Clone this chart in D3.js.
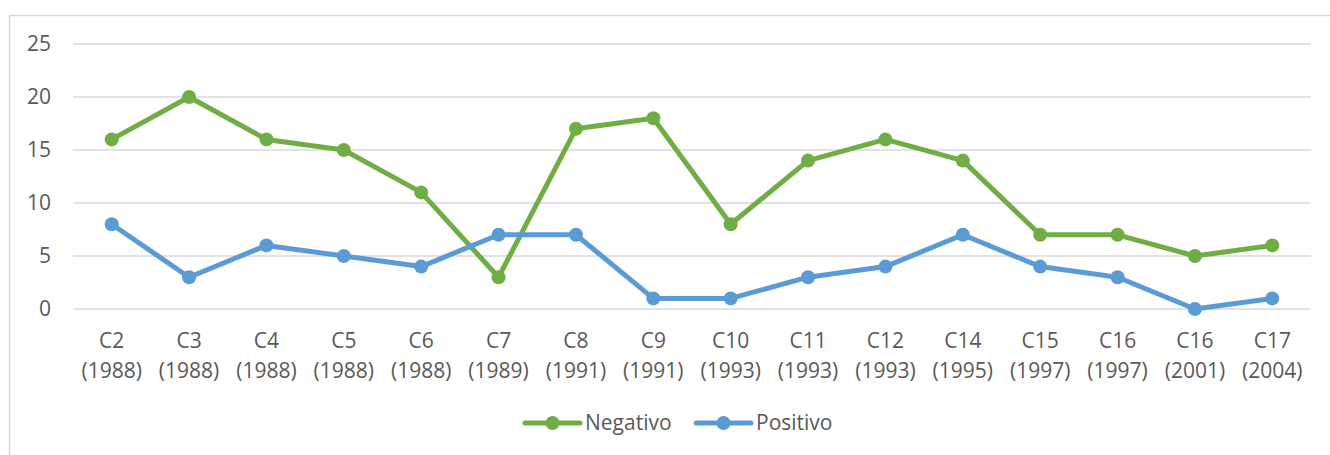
<!DOCTYPE html>
<html>
<head>
<meta charset="utf-8">
<script src="https://cdn.jsdelivr.net/npm/d3@7"></script>
<style>
  body { margin: 0; background: #fff; }
  #chart text { font-family: "Open Sans", sans-serif; fill: #595959; }
</style>
</head>
<body>
<div id="chart"></div>
<script>
// categories (two-line labels)
const categories = ["C2", "C3", "C4", "C5", "C6", "C7", "C8", "C9", "C10", "C11", "C12", "C14", "C15", "C16", "C16", "C17"];
const years = ["1988", "1988", "1988", "1988", "1988", "1989", "1991", "1991", "1993", "1993", "1993", "1995", "1997", "1997", "2001", "2004"];
const negativo = [16, 20, 16, 15, 11, 3, 17, 18, 8, 14, 16, 14, 7, 7, 5, 6];
const positivo = [8, 3, 6, 5, 4, 7, 7, 1, 1, 3, 4, 7, 4, 3, 0, 1];
const yTicks = [0, 5, 10, 15, 20, 25];

const width = 1330, height = 455;
const margin = { left: 73, right: 19, top: 44, bottom: 145 };

const svg = d3.select("#chart").append("svg")
    .attr("width", width)
    .attr("height", height);

// outer chart border
svg.append("rect")
    .attr("x", 9.5).attr("y", 15.5)
    .attr("width", width + 20).attr("height", height + 20)
    .attr("fill", "none")
    .attr("stroke", "#d9d9d9")
    .attr("stroke-width", 1.5);

const keys = categories.map((c, i) => i);

const x = d3.scaleBand()
    .domain(keys)
    .range([margin.left, width - margin.right]);

const y = d3.scaleLinear()
    .domain([0, 25])
    .range([height - margin.bottom - 1, margin.top]);

// gridlines
svg.append("g")
    .selectAll("line")
    .data(yTicks)
    .enter().append("line")
    .attr("x1", margin.left)
    .attr("x2", width - margin.right)
    .attr("y1", d => y(d))
    .attr("y2", d => y(d))
    .attr("stroke", "#d9d9d9")
    .attr("stroke-width", 1.5);

// y axis labels
svg.append("g")
    .selectAll("text")
    .data(yTicks)
    .enter().append("text")
    .attr("x", 51)
    .attr("y", d => y(d))
    .attr("dy", "0.35em")
    .attr("text-anchor", "end")
    .style("font-size", "21px")
    .text(d => d);

// x axis labels
const xl = svg.append("g")
    .selectAll("text")
    .data(keys)
    .enter().append("text")
    .attr("text-anchor", "middle")
    .style("font-size", "21px");
xl.append("tspan")
    .attr("x", d => x(d) + x.bandwidth() / 2)
    .attr("y", 348)
    .text(d => categories[d]);
xl.append("tspan")
    .attr("x", d => x(d) + x.bandwidth() / 2)
    .attr("y", 378)
    .text(d => "(" + years[d] + ")");

const series = [
    { name: "Negativo", values: negativo, color: "#70ad47" },
    { name: "Positivo", values: positivo, color: "#5b9bd5" }
];

const line = d3.line()
    .x((d, i) => x(i) + x.bandwidth() / 2)
    .y(d => y(d));

series.forEach(s => {
    svg.append("path")
        .datum(s.values)
        .attr("fill", "none")
        .attr("stroke", s.color)
        .attr("stroke-width", 5)
        .attr("stroke-linejoin", "round")
        .attr("d", line);
    svg.append("g")
        .selectAll("circle")
        .data(s.values)
        .enter().append("circle")
        .attr("cx", (d, i) => x(i) + x.bandwidth() / 2)
        .attr("cy", d => y(d))
        .attr("r", 7)
        .attr("fill", s.color);
});

// legend
const legendX = [525, 696];
const legend = svg.append("g")
    .selectAll("g")
    .data(series)
    .enter().append("g")
    .attr("transform", (d, i) => `translate(${legendX[i]},423)`);
legend.append("line")
    .attr("x1", 0).attr("x2", 55)
    .attr("stroke", d => d.color)
    .attr("stroke-width", 5)
    .attr("stroke-linecap", "round");
legend.append("circle")
    .attr("cx", 27.5)
    .attr("r", 7)
    .attr("fill", d => d.color);
legend.append("text")
    .attr("x", 60)
    .attr("dy", "0.35em")
    .style("font-size", "21px")
    .text(d => d.name);
</script>
</body>
</html>
